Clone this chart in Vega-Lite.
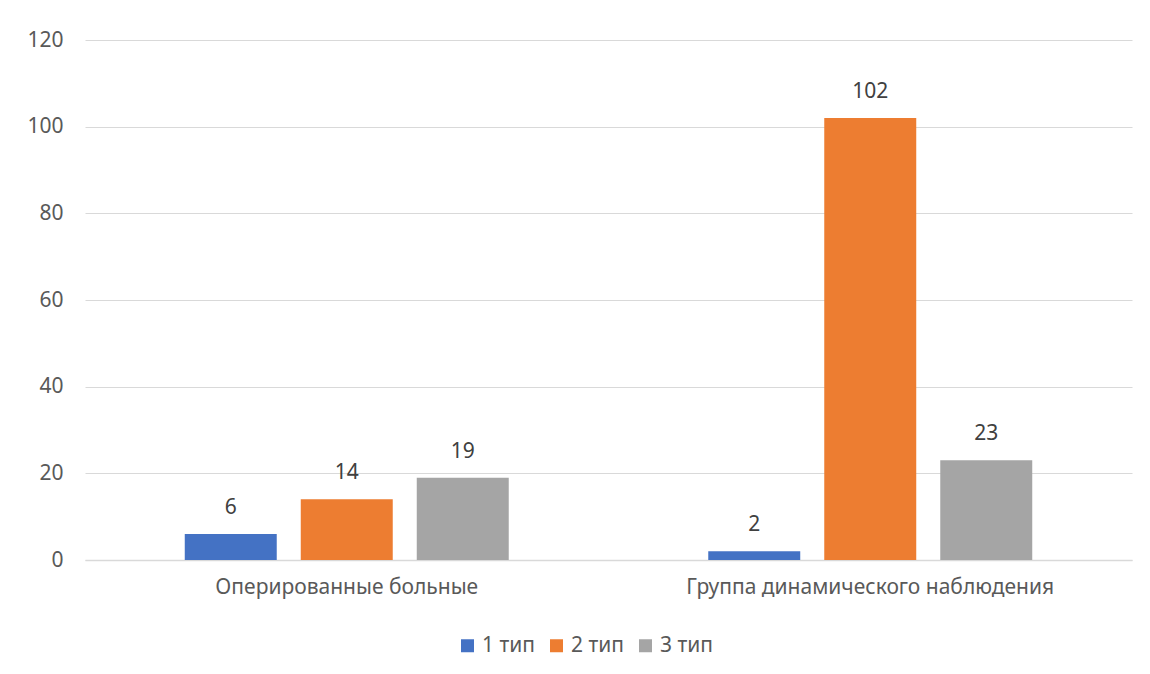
{
  "$schema": "https://vega.github.io/schema/vega-lite/v6.json",
  "width": 1047,
  "height": 520,
  "autosize": {"type": "none"},
  "padding": {"left": 85, "top": 40, "right": 18, "bottom": 114},
  "background": "white",
  "config": {
    "font": "Noto Sans",
    "view": {"stroke": null}
  },
  "data": {
    "values": [
      {"group": "Оперированные больные", "type": "1 тип", "value": 6},
      {"group": "Оперированные больные", "type": "2 тип", "value": 14},
      {"group": "Оперированные больные", "type": "3 тип", "value": 19},
      {"group": "Группа динамического наблюдения", "type": "1 тип", "value": 2},
      {"group": "Группа динамического наблюдения", "type": "2 тип", "value": 102},
      {"group": "Группа динамического наблюдения", "type": "3 тип", "value": 23}
    ]
  },
  "encoding": {
    "x": {
      "field": "group",
      "type": "nominal",
      "sort": ["Оперированные больные", "Группа динамического наблюдения"],
      "scale": {"paddingInner": 0, "paddingOuter": 0},
      "axis": {
        "title": null,
        "labelAngle": 0,
        "labelFontSize": 21,
        "labelColor": "#595959",
        "labelPadding": 16,
        "labelLimit": 0,
        "ticks": false,
        "domainColor": "#d9d9d9",
        "domainWidth": 1.5,
        "grid": false
      }
    },
    "xOffset": {
      "field": "type",
      "type": "nominal",
      "scale": {"paddingInner": 0.207, "paddingOuter": 0.86}
    },
    "y": {
      "field": "value",
      "type": "quantitative",
      "scale": {"domain": [0, 120]},
      "axis": {
        "title": null,
        "values": [0, 20, 40, 60, 80, 100, 120],
        "labelFontSize": 21,
        "labelColor": "#595959",
        "labelPadding": 22,
        "ticks": false,
        "domain": false,
        "gridColor": "#d9d9d9",
        "gridWidth": 1.2
      }
    }
  },
  "layer": [
    {
      "mark": {"type": "bar"},
      "encoding": {
        "color": {
          "field": "type",
          "type": "nominal",
          "scale": {"domain": ["1 тип", "2 тип", "3 тип"], "range": ["#4472C4", "#ED7D31", "#A5A5A5"]},
          "legend": {
            "title": null,
            "orient": "none",
            "direction": "horizontal",
            "legendX": 372,
            "legendY": 595,
            "symbolType": "square",
            "symbolSize": 169,
            "symbolStrokeWidth": 0,
            "labelFontSize": 21,
            "labelColor": "#595959",
            "labelOffset": 4,
            "columnPadding": 10
          }
        }
      }
    },
    {
      "mark": {"type": "text", "dy": -26, "fontSize": 21, "color": "#404040"},
      "encoding": {
        "text": {"field": "value", "type": "quantitative"}
      }
    }
  ]
}
